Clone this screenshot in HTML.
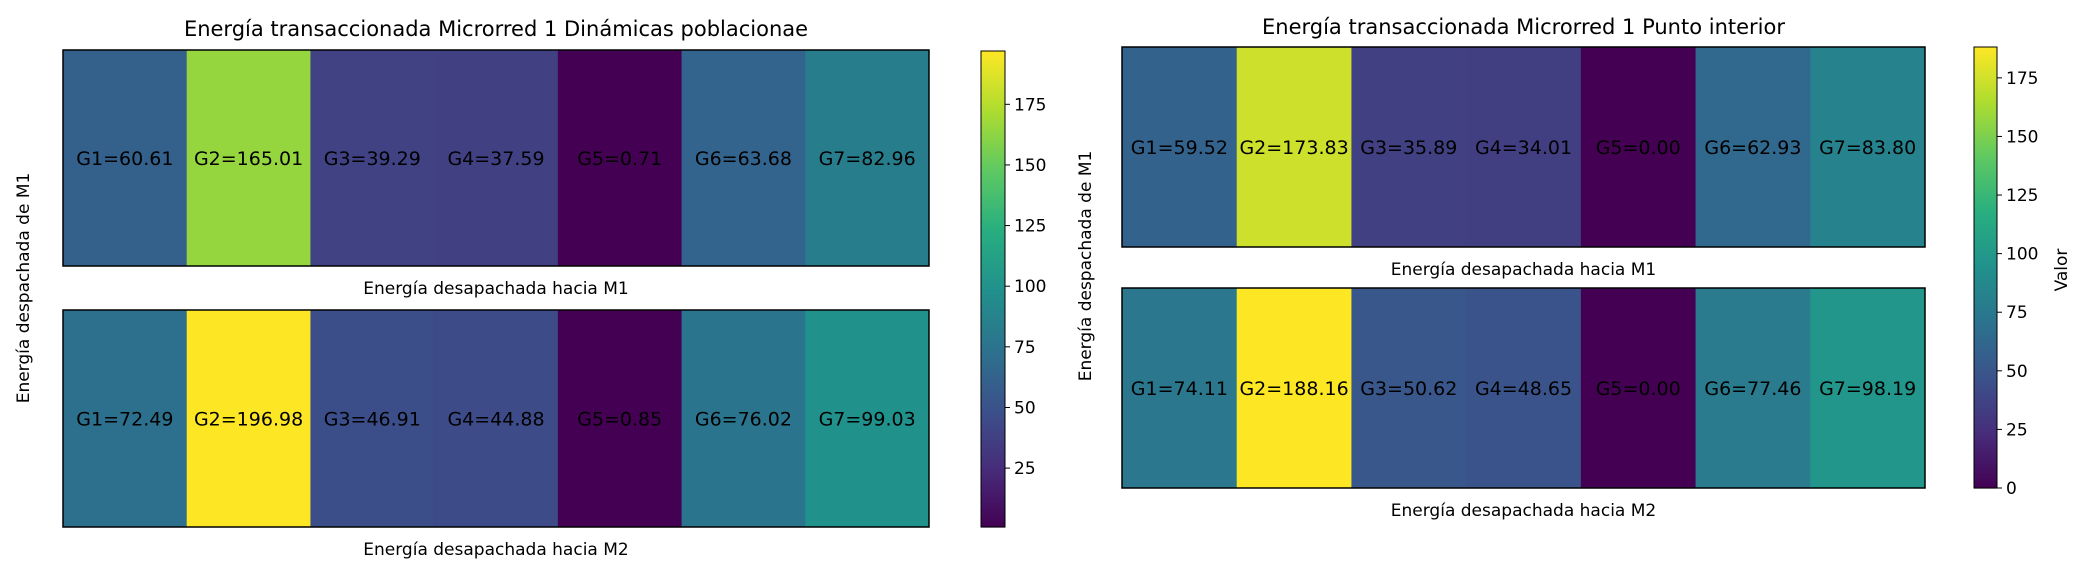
<!DOCTYPE html>
<html><head><meta charset="utf-8"><style>
html,body{margin:0;padding:0;background:#fff;}
svg{display:block;font-family:"DejaVu Sans","Liberation Sans",sans-serif;}
</style></head><body>
<svg id="chart" width="2084" height="570" viewBox="0 0 2084 570"></svg>
<script>
const generators = ["G1","G2","G3","G4","G5","G6","G7"];
const leftM1 = [60.61,165.01,39.29,37.59,0.71,63.68,82.96];
const leftM2 = [72.49,196.98,46.91,44.88,0.85,76.02,99.03];
const rightM1 = [59.52,173.83,35.89,34.01,0.00,62.93,83.80];
const rightM2 = [74.11,188.16,50.62,48.65,0.00,77.46,98.19];
const leftTicks = [25,50,75,100,125,150,175];
const rightTicks = [0,25,50,75,100,125,150,175];

const NS="http://www.w3.org/2000/svg";
const svg=document.getElementById('chart');
const vir=["#440154","#472d7b","#3b528b","#2c728e","#21918c","#28ae80","#5ec962","#addc30","#fde725"];
function hex(h){return [1,3,5].map(i=>parseInt(h.substr(i,2),16));}
function cmap(t){t=Math.max(0,Math.min(1,t));const s=t*(vir.length-1);const i=Math.min(vir.length-2,Math.floor(s));const f=s-i;const a=hex(vir[i]),b=hex(vir[i+1]);return 'rgb('+a.map((v,k)=>Math.round(v+(b[k]-v)*f)).join(',')+')';}
function el(tag,attrs,parent){const e=document.createElementNS(NS,tag);for(const k in attrs)e.setAttribute(k,attrs[k]);(parent||svg).appendChild(e);return e;}
function txt(s,attrs,parent){const e=el('text',attrs,parent);e.textContent=s;return e;}

function heatRow(g,vals,x0,x1,y0,y1,vmin,vmax,name){
  const w=(x1-x0)/vals.length;
  const grp=el('g',{},g);
  
  
  vals.forEach((v,i)=>{
    const r=el('rect',{x:x0+i*w,y:y0,width:w+0.5,height:y1-y0,fill:cmap((v-vmin)/(vmax-vmin))},grp);
    
    
    const t=txt(generators[i]+'='+v.toFixed(2),{x:x0+(i+0.5)*w,y:(y0+y1)/2+7,'text-anchor':'middle','font-size':19,fill:'#000'},grp);
    
    
  });
  const b=el('rect',{x:x0,y:y0,width:x1-x0,height:y1-y0,fill:'none',stroke:'#000','stroke-width':1.5},grp);
  
  
}
function colorbar(g,x0,x1,y0,y1,vmin,vmax,ticks){
  const grp=el('g',{},g);
  
  
  const n=200,h=(y1-y0)/n;
  for(let i=0;i<n;i++){el('rect',{x:x0,y:y1-(i+1)*h,width:x1-x0,height:h+0.6,fill:cmap((i+0.5)/n)},grp);}
  el('rect',{x:x0,y:y0,width:x1-x0,height:y1-y0,fill:'none',stroke:'#000','stroke-width':1},grp);
  ticks.forEach(t=>{
    const y=y1-(t-vmin)/(vmax-vmin)*(y1-y0);
    el('line',{x1:x1,x2:x1+5,y1:y,y2:y,stroke:'#000','stroke-width':1},grp);
    const l=txt(String(t),{x:x1+9,y:y+6,'font-size':17,fill:'#000'},grp);
    
    
  });
}
function panel(cfg){
  const g=el('g',{});
  
  
  const all=cfg.m1.concat(cfg.m2);const vmin=Math.min(...all),vmax=Math.max(...all);
  const t=txt(cfg.title,{x:(cfg.x0+cfg.x1)/2,y:cfg.titleY,'text-anchor':'middle','font-size':21,fill:'#000'},g);
  
  heatRow(g,cfg.m1,cfg.x0,cfg.x1,cfg.r1[0],cfg.r1[1],vmin,vmax,'heatmap-m1');
  heatRow(g,cfg.m2,cfg.x0,cfg.x1,cfg.r2[0],cfg.r2[1],vmin,vmax,'heatmap-m2');
  const a=txt('Energía desapachada hacia M1',{x:(cfg.x0+cfg.x1)/2,y:cfg.r1[1]+28,'text-anchor':'middle','font-size':17,fill:'#000'},g);
  
  const b=txt('Energía desapachada hacia M2',{x:(cfg.x0+cfg.x1)/2,y:cfg.r2[1]+28,'text-anchor':'middle','font-size':17,fill:'#000'},g);
  
  const y=txt('Energía despachada de M1',{x:0,y:0,'text-anchor':'middle','font-size':17,fill:'#000',transform:'translate('+cfg.ylx+','+cfg.yly+') rotate(-90)'},g);
  
  colorbar(g,cfg.cb[0],cfg.cb[1],cfg.cb[2],cfg.cb[3],vmin,vmax,cfg.ticks);
  if(cfg.valor){const v=txt('Valor',{x:0,y:0,'text-anchor':'middle','font-size':17,fill:'#000',transform:'translate('+cfg.valor[0]+','+cfg.valor[1]+') rotate(-90)'},g);
    }
}
panel({name:'panel-dinamicas',title:'Energía transaccionada Microrred 1 Dinámicas poblacionae',titleY:36,x0:63,x1:929,r1:[50,266],r2:[310,527],m1:leftM1,m2:leftM2,ylx:29,yly:288,cb:[981,1005,51,527],ticks:leftTicks});
panel({name:'panel-punto-interior',title:'Energía transaccionada Microrred 1 Punto interior',titleY:34,x0:1122,x1:1925,r1:[47,247],r2:[288,488],m1:rightM1,m2:rightM2,ylx:1091,yly:266,cb:[1974,1997,47,488],ticks:rightTicks,valor:[2067,270]});
</script>
</body></html>
